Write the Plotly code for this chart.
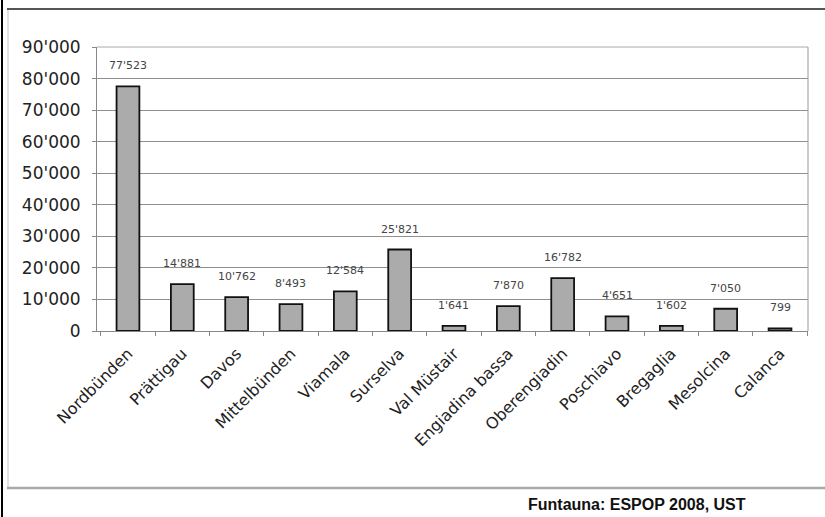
import plotly.graph_objects as go

regions = ["Nordbünden", "Prättigau", "Davos", "Mittelbünden", "Viamala", "Surselva",
           "Val Müstair", "Engiadina bassa", "Oberengiadin", "Poschiavo", "Bregaglia",
           "Mesolcina", "Calanca"]
population = [77523, 14881, 10762, 8493, 12584, 25821, 1641, 7870, 16782, 4651, 1602, 7050, 799]
labels = ["77'523", "14'881", "10'762", "8'493", "12'584", "25'821", "1'641", "7'870",
          "16'782", "4'651", "1'602", "7'050", "799"]
y_ticks = [0, 10000, 20000, 30000, 40000, 50000, 60000, 70000, 80000, 90000]
source_text = "Funtauna: ESPOP 2008, UST"

W, H = 825, 517
L, R, T, B = 97, 17, 47, 186
pw, ph = W - L - R, H - T - B

def px(x):
    return (x - L) / pw

def py(y):
    return (H - B - y) / ph

FONT = "DejaVu Sans, Liberation Sans, Arial"

fig = go.Figure()
fig.add_trace(go.Bar(
    x=regions, y=population,
    marker=dict(color="#ababab", line=dict(color="#111111", width=1.8)),
    width=0.42,
    hoverinfo="x+y",
))

for r, v, t in zip(regions, population, labels):
    fig.add_annotation(x=r, y=v, text=t, showarrow=False, yanchor="bottom",
                       yshift=12, font=dict(family=FONT, size=11, color="#444444"))

fig.add_annotation(xref="paper", yref="paper", x=px(637), y=py(505), text="<b>" + source_text + "</b>",
                   showarrow=False, xanchor="center", yanchor="middle",
                   font=dict(family="Liberation Sans Narrow, Liberation Sans, Arial", size=16, color="#111111"))

shapes = [
    dict(type="line", xref="paper", yref="paper", x0=px(2), x1=px(2), y0=py(0), y1=py(517),
         line=dict(color="#000000", width=2)),
    dict(type="line", xref="paper", yref="paper", x0=px(8), x1=px(8), y0=py(10), y1=py(488),
         line=dict(color="#c4c4c4", width=1)),
    dict(type="line", xref="paper", yref="paper", x0=px(7), x1=px(825), y0=py(9), y1=py(9),
         line=dict(color="#555555", width=2)),
    dict(type="line", xref="paper", yref="paper", x0=px(7), x1=px(825), y0=py(488), y1=py(488),
         line=dict(color="#aaaaaa", width=2.5)),
    dict(type="line", xref="paper", yref="paper", x0=0, x1=1, y0=1, y1=1,
         line=dict(color="#aaaaaa", width=1)),
    dict(type="line", xref="paper", yref="paper", x0=1, x1=1, y0=0, y1=1,
         line=dict(color="#999999", width=1)),
]

fig.update_layout(
    width=W, height=H,
    margin=dict(l=L, r=R, t=T, b=B, autoexpand=False),
    paper_bgcolor="white", plot_bgcolor="white",
    showlegend=False,
    separators=".'",
    bargap=0.58,
    shapes=shapes,
    font=dict(family=FONT, size=13, color="#222222"),
)
fig.update_xaxes(
    automargin=False,
    range=[-0.57, 12.515],
    showline=True, linecolor="#888888", linewidth=1,
    ticks="outside", tickson="boundaries", ticklen=4, tickcolor="#888888",
    ticklabelstandoff=6,
    tickangle=-45, tickfont=dict(family=FONT, size=16, color="#222222"),
    showgrid=False,
)
fig.update_yaxes(
    automargin=False,
    range=[0, 90000], tickvals=y_ticks, tickformat=",d",
    showline=True, linecolor="#888888", linewidth=1,
    ticks="outside", ticklen=4, tickcolor="#888888",
    ticklabelstandoff=8,
    showgrid=True, gridcolor="#8f8f8f", gridwidth=1,
    zeroline=False,
    tickfont=dict(family=FONT, size=17, color="#222222"),
)

fig.write_html("out.html", config={"displayModeBar": False},
               post_script="document.body.style.margin='0';document.body.style.overflow='hidden';")
